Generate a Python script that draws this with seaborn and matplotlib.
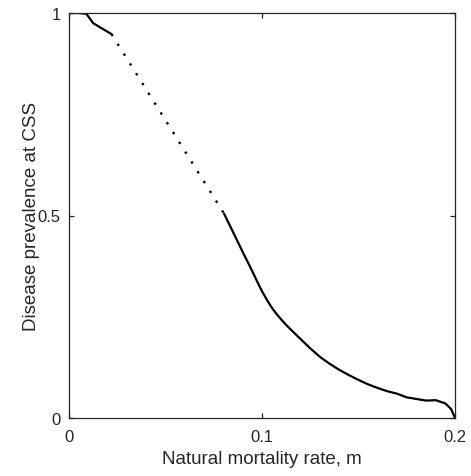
import numpy as np
import pandas as pd
import matplotlib
matplotlib.use("Agg")
import matplotlib.pyplot as plt
import seaborn as sns

# Stable branch near full prevalence (low mortality)
m_high = [0.0, 0.005, 0.009, 0.0125, 0.017, 0.022]
prev_high = [1.0, 1.0, 0.998, 0.975, 0.962, 0.948]

# Gap bridged by a dotted segment
m_gap = [0.022, 0.0803]
prev_gap = [0.948, 0.505]

# Decreasing branch towards extinction of the disease
m_low = [0.0803, 0.085, 0.09, 0.095, 0.0975, 0.1, 0.1025, 0.105, 0.1075, 0.11,
         0.1125, 0.115, 0.12, 0.125, 0.13, 0.135, 0.14, 0.145, 0.15, 0.155,
         0.16, 0.165, 0.17, 0.175, 0.18, 0.185, 0.19, 0.195, 0.198, 0.2]
prev_low = [0.505, 0.459, 0.41, 0.362, 0.337, 0.313, 0.292, 0.273, 0.257, 0.243,
            0.230, 0.218, 0.195, 0.172, 0.151, 0.134, 0.119, 0.106, 0.094, 0.083,
            0.074, 0.066, 0.06, 0.051, 0.047, 0.043, 0.044, 0.036, 0.022, 0.0]

x_ticks = [0, 0.1, 0.2]
x_ticklabels = ["0", "0.1", "0.2"]
y_ticks = [0, 0.5, 1]
y_ticklabels = ["0", "0.5", "1"]

sns.set_style("white")
plt.rcParams["font.family"] = ["Liberation Sans", "DejaVu Sans"]

frame = "#262626"
fig = plt.figure(figsize=(4.71, 4.77), dpi=100)
ax = fig.add_axes([69 / 471, 1 - 419 / 477, (455 - 69) / 471, (419 - 14) / 477])

df_high = pd.DataFrame({"m": m_high, "p": prev_high})
df_gap = pd.DataFrame({"m": m_gap, "p": prev_gap})
df_low = pd.DataFrame({"m": m_low, "p": prev_low})

sns.lineplot(data=df_high, x="m", y="p", ax=ax, color="black", lw=1.6,
             sort=False, estimator=None)
sns.lineplot(data=df_gap, x="m", y="p", ax=ax, color="black", lw=1.7,
             sort=False, estimator=None, linestyle=(0, (1, 3.9)),
             dash_capstyle="butt")
sns.lineplot(data=df_low, x="m", y="p", ax=ax, color="black", lw=1.6,
             sort=False, estimator=None)

ax.set_xlim(0, 0.2)
ax.set_ylim(0, 1)
ax.set_xticks(x_ticks)
ax.set_xticklabels(x_ticklabels)
ax.set_yticks(y_ticks)
ax.set_yticklabels(y_ticklabels)

for sp in ax.spines.values():
    sp.set_visible(True)
    sp.set_color(frame)
    sp.set_linewidth(0.9)

ax.tick_params(direction="in", length=3.5, width=0.9, color=frame,
               labelcolor=frame, labelsize=12, top=True, right=True,
               bottom=True, left=True)
ax.tick_params(axis="x", pad=8)
ax.tick_params(axis="y", pad=6)

ax.set_xlabel("Natural mortality rate, m", fontsize=13.5, color=frame, labelpad=4)
ax.set_ylabel("Disease prevalence at CSS", fontsize=13.5, color=frame, labelpad=-1.5)

fig.savefig("out.png", dpi=100)
